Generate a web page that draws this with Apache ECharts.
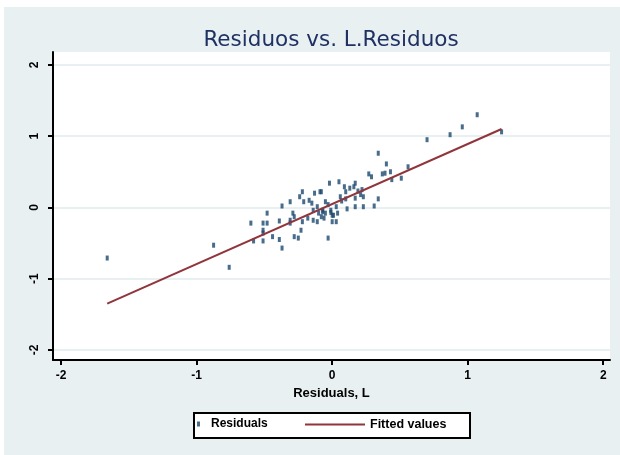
<!DOCTYPE html>
<html>
<head>
<meta charset="utf-8">
<script src="https://cdn.jsdelivr.net/npm/echarts@6/dist/echarts.min.js"></script>
<style>
  html, body { margin: 0; padding: 0; background: #ffffff; }
  #chart { position: absolute; left: 4px; top: 7px; width: 616px; height: 448px; }
</style>
</head>
<body>
<div id="chart"></div>
<script>
// Lagged residuals (x) against current residuals (y)
const residualsLag = [
  -1.66, -0.875, -0.76, 0.70, 0.87, 0.96, 1.07, 1.25, 0.56, 0.51,
  0.34, 0.40, 0.39, 0.37, 0.43, 0.44, 0.27, 0.29, 0.22, 0.23,
  0.23, 0.17, 0.16, 0.19, 0.17, 0.17, 0.31, 0.34, 0.05, 0.09,
  -0.02, 0.10, 0.10, 0.11, 0.07, 0.03, -0.01, 0.00, -0.05, -0.07,
  -0.06, 0.03, -0.03, -0.08, -0.09, -0.13, -0.22, -0.24, -0.21, -0.31,
  -0.37, -0.15, -0.14, -0.11, -0.10, -0.07, -0.05, -0.08, -0.03, -0.01,
  0.01, 0.04, 0.00, -0.11, -0.14, -0.18, -0.22, -0.23, -0.29, -0.28,
  -0.31, -0.39, -0.48, -0.48, -0.51, -0.60, -0.51, -0.51, -0.44, -0.39,
  -0.37, -0.58, -0.51, -0.28, -0.25, -0.31, 0.06, 0.13, 0.21, -0.17
];
const residuals = [
  -0.71, -0.53, -0.84, 0.95, 1.02, 1.13, 1.30, 1.06, 0.57, 0.41,
  0.76, 0.61, 0.48, 0.47, 0.50, 0.39, 0.47, 0.43, 0.25, 0.15,
  0.01, 0.34, 0.29, 0.23, 0.13, 0.01, 0.02, 0.12, 0.36, 0.29,
  0.34, 0.22, 0.12, -0.02, 0.09, 0.01, -0.04, -0.11, 0.08, -0.04,
  -0.15, -0.20, -0.43, 0.22, 0.22, 0.20, 0.22, 0.15, 0.08, 0.08,
  0.02, 0.06, -0.04, 0.01, -0.08, -0.06, -0.08, -0.13, 0.04, -0.07,
  -0.11, -0.08, -0.20, -0.20, -0.18, -0.15, -0.20, -0.32, -0.08, -0.13,
  -0.18, -0.19, -0.08, -0.22, -0.22, -0.22, -0.32, -0.36, -0.41, -0.45,
  -0.57, -0.47, -0.47, -0.41, -0.43, -0.22, 0.15, 0.27, 0.18, 0.10
];
// Fitted regression line, drawn between the extreme lagged values
const fittedX = [-1.66, 1.25];
const fittedY = [-1.35, 1.10];
const tickValues = [-2, -1, 0, 1, 2];

const points = residualsLag.map((x, i) => [x, residuals[i]]);
const fitted = fittedX.map((x, i) => [x, fittedY[i]]);

const ink = '#000000';
const labelFont = { fontFamily: 'Liberation Sans', fontWeight: 'bold', fontSize: 12, color: ink };

const chart = echarts.init(document.getElementById('chart'), null, { renderer: 'canvas' });
chart.setOption({
  animation: false,
  backgroundColor: '#e8f0f2',
  title: {
    text: 'Residuos vs. L.Residuos',
    left: 322, top: 17, textAlign: 'center',
    textStyle: { fontFamily: 'DejaVu Sans', fontWeight: 'normal', fontSize: 21.5, color: '#1f3162' }
  },
  grid: {
    left: 49, right: 10, top: 45, bottom: 95,
    show: true, backgroundColor: '#ffffff', borderWidth: 0
  },
  xAxis: {
    type: 'value', min: -2.06, max: 2.05,
    name: 'Residuals, L', nameLocation: 'middle', nameGap: 27,
    nameTextStyle: { ...labelFont, fontSize: 13 },
    axisLine: { show: true, onZero: false, lineStyle: { color: ink, width: 2 } },
    axisTick: { show: true, length: 5, customValues: tickValues, lineStyle: { color: ink, width: 2 } },
    axisLabel: { customValues: tickValues, margin: 10, ...labelFont },
    splitLine: { show: false }
  },
  yAxis: {
    type: 'value', min: -2.14, max: 2.18,
    axisLine: { show: true, onZero: false, lineStyle: { color: ink, width: 2 } },
    axisTick: { show: true, length: 5, customValues: tickValues, lineStyle: { color: ink, width: 2 } },
    axisLabel: { customValues: tickValues, rotate: 90, margin: 12, ...labelFont },
    splitLine: { show: true, customValues: tickValues, lineStyle: { color: '#e8f0f2', width: 2 } }
  },
  graphic: [{
    type: 'rect', left: 189, top: 405, z: 0,
    shape: { width: 276, height: 25 },
    style: { fill: '#ffffff', stroke: ink, lineWidth: 2 }
  }],
  legend: [
    {
      data: ['Residuals'], left: 193, top: 411, padding: 0,
      icon: 'rect', itemWidth: 3, itemHeight: 5,
      textStyle: { ...labelFont, padding: [0, 0, 0, 6] }, z: 5
    },
    {
      data: ['Fitted values'], left: 301, top: 411, padding: 0,
      icon: 'rect', itemWidth: 60, itemHeight: 2,
      textStyle: { ...labelFont, fontSize: 12.5 }, z: 5
    }
  ],
  series: [
    {
      name: 'Residuals', type: 'scatter', data: points,
      symbol: 'rect', symbolSize: [3, 5],
      itemStyle: { color: '#1a476f' }
    },
    {
      name: 'Fitted values', type: 'line', data: fitted,
      symbol: 'none', lineStyle: { color: '#90353b', width: 2 },
      itemStyle: { color: '#90353b' }
    }
  ]
});
</script>
</body>
</html>
